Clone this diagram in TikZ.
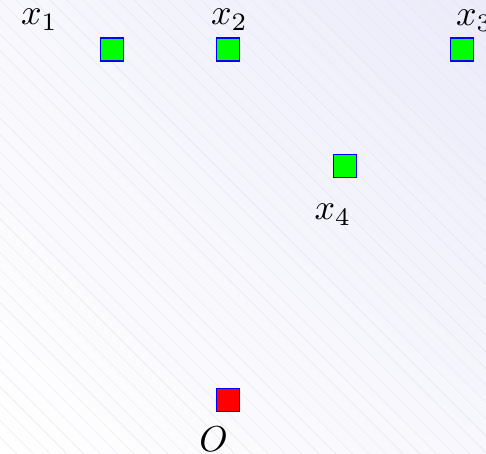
\documentclass[tikz,border=0pt]{standalone}
\usetikzlibrary{patterns.meta,shadings}
\definecolor{bgtop}{RGB}{235,235,250}
\definecolor{hatch}{RGB}{230,230,241}
\tikzset{
  pt/.style={rectangle, minimum size=6.39pt, inner sep=0pt, draw=blue, line width=0.33pt, fill=green},
  origin/.style={pt, fill=red},
  lbl/.style={anchor=base, inner sep=0pt}
}
\begin{document}
\begin{tikzpicture}[x=0.27778pt,y=-0.27778pt]
\useasboundingbox (0,0) rectangle (486,454);
\shade[lower left=white, upper right=bgtop, upper left=bgtop!40!white, lower right=bgtop!40!white] (0,0) rectangle (486,454);
\fill[pattern={Lines[angle=-45,distance=3.3pt,line width=0.12pt]}, pattern color=hatch] (0,0) rectangle (486,454);
\node[pt] (x1) at (111.7,49.5) {};
\node[pt] (x2) at (228.3,49.5) {};
\node[pt] (x3) at (462.2,49.5) {};
\node[pt] (x4) at (345.2,166.2) {};
\node[origin] (O) at (228.3,399.7) {};
\node[lbl] (l1) at (39.5,25) {$x_1$};
\node[lbl] (l2) at (229.5,25) {$x_2$};
\node[lbl] (l3) at (474.5,26) {$x_3$};
\node[lbl] (l4) at (333,220) {$x_4$};
\node[lbl] (lO) at (213.5,451.8) {$O$};
\end{tikzpicture}
\end{document}
